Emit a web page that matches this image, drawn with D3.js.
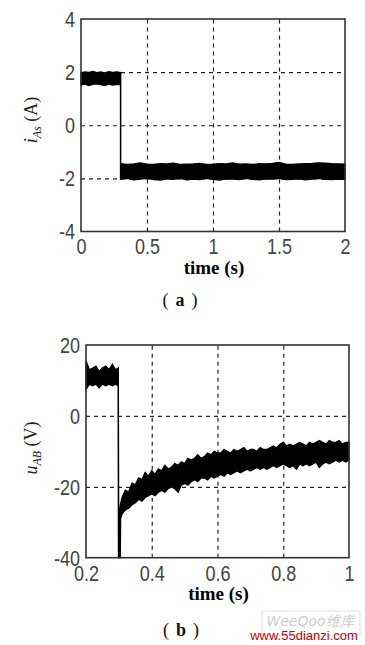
<!DOCTYPE html>
<html>
<head>
<meta charset="utf-8">
<script src="https://cdn.jsdelivr.net/npm/d3@7"></script>
<style>
  body { margin: 0; background: #fff; }
  svg { display: block; }
  .tick text {
    font-family: "Liberation Sans", Arial, sans-serif; font-size: 18px; fill: #444;
    transform-box: fill-box; transform-origin: center; transform: scaleY(1.18);
  }
  .grid line { stroke: #222; stroke-width: 1.2; stroke-dasharray: 4 4; }
  .grid path { display: none; }
</style>
</head>
<body>
<svg id="chart" width="365" height="645"></svg>
<script>
// ----------- DATA -----------
// (a) phase current: time, upper and lower edge of the noisy trace
const timeA = [0, 0.03, 0.06, 0.09, 0.12, 0.15, 0.18, 0.21, 0.24, 0.27, 0.3,
  0.3, 0.35, 0.4, 0.45, 0.5, 0.55, 0.6, 0.65, 0.7, 0.75, 0.8, 0.85, 0.9, 0.95, 1.0,
  1.05, 1.1, 1.15, 1.2, 1.25, 1.3, 1.35, 1.4, 1.45, 1.5, 1.55, 1.6, 1.65, 1.7,
  1.75, 1.8, 1.85, 1.9, 1.95, 2.0];
const upperA = [1.97, 2.0, 1.99, 2.02, 1.98, 2.0, 1.97, 2.01, 1.99, 2.0, 1.98,
  -1.45, -1.48, -1.46, -1.42, -1.47, -1.48, -1.45, -1.46, -1.43, -1.48, -1.47, -1.46, -1.44, -1.48, -1.47,
  -1.45, -1.46, -1.42, -1.47, -1.46, -1.48, -1.45, -1.46, -1.44, -1.4, -1.47, -1.48, -1.46, -1.45,
  -1.44, -1.42, -1.43, -1.45, -1.46, -1.47];
const lowerA = [1.52, 1.55, 1.5, 1.54, 1.56, 1.53, 1.5, 1.55, 1.52, 1.54, 1.53,
  -2.03, -2.0, -2.05, -2.02, -2.0, -2.04, -2.06, -2.01, -2.03, -2.0, -2.05, -2.02, -2.04, -2.0, -2.03,
  -2.06, -2.01, -2.02, -2.04, -2.0, -2.03, -2.05, -2.01, -2.02, -2.0, -2.04, -2.03, -2.01, -2.05,
  -2.02, -2.0, -2.03, -2.04, -2.02, -2.03];

// (b) line voltage
const timeB = [0.2, 0.21, 0.22, 0.23, 0.24, 0.25, 0.26, 0.27, 0.28, 0.29, 0.298,
  0.299, 0.304, 0.305,
  0.31, 0.32, 0.33, 0.34, 0.35, 0.36, 0.37, 0.38, 0.39, 0.4,
  0.41, 0.42, 0.43, 0.44, 0.45, 0.46, 0.47, 0.48, 0.49, 0.5,
  0.51, 0.52, 0.53, 0.54, 0.55, 0.56, 0.57, 0.58, 0.59, 0.6,
  0.61, 0.62, 0.63, 0.64, 0.65, 0.66, 0.67, 0.68, 0.69, 0.7,
  0.71, 0.72, 0.73, 0.74, 0.75, 0.76, 0.77, 0.78, 0.79, 0.8,
  0.81, 0.82, 0.83, 0.84, 0.85, 0.86, 0.87, 0.88, 0.89, 0.9,
  0.91, 0.92, 0.93, 0.94, 0.95, 0.96, 0.97, 0.98, 0.99, 1.0];
const upperB = [15.5, 13, 13.5, 14, 12.5, 13.5, 14, 13, 14.5, 13, 13.5,
  -26, -26, -25,
  -23, -21, -21.5, -19, -19.5, -17.5, -18, -16, -17, -15.5,
  -16.5, -15, -15.5, -14, -15, -14.5, -13.5, -14, -13, -13.5,
  -12, -12.5, -12, -11, -12, -11.5, -10.5, -11, -10, -10.5,
  -10.5, -9.5, -10, -10.5, -9.5, -10, -9.5, -9, -10, -9.5,
  -9.5, -10, -9, -9.5, -9.5, -9, -8.5, -9, -8, -7.5,
  -8.5, -8, -8.5, -8, -7.5, -8, -8.5, -7.5, -8, -7.5,
  -7, -7.5, -8, -7, -7.5, -7.5, -7, -8, -7.5, -7.5];
const lowerB = [7.5, 9, 8.5, 9, 8, 9, 8.5, 9, 8.5, 9, 8.5,
  -40, -40, -29,
  -27.5, -26.5, -26, -25, -24.5, -23.5, -24, -23, -22.5, -22,
  -22.5, -21.5, -21, -21.5, -20.5, -20, -20.5, -21.5, -19.5, -19,
  -19.5, -18.5, -18, -18.5, -17.5, -17.5, -18, -17, -17.5, -17,
  -16.5, -17, -16, -16.5, -16, -15.5, -16, -15.5, -15, -15.5,
  -15, -14.5, -15, -14.5, -15, -14.5, -14, -14.5, -14, -13.5,
  -14, -14.5, -14, -15, -13.5, -14, -13.5, -14, -13.5, -13,
  -14.5, -13.5, -13, -13.5, -13, -12.5, -13, -12.5, -13, -12.5];

const ticksA_x = [0, 0.5, 1, 1.5, 2];
const ticksA_y = [-4, -2, 0, 2, 4];
const ticksB_x = [0.2, 0.4, 0.6, 0.8, 1];
const ticksB_y = [-40, -20, 0, 20];

// ----------- DRAW ONE PANEL -----------
const svg = d3.select("#chart");

function panel(opt) {
  const x = d3.scaleLinear().domain(opt.xDomain).range([opt.left, opt.right]);
  const y = d3.scaleLinear().domain(opt.yDomain).range([opt.bottom, opt.top]);
  const g = svg.append("g");

  // dashed grid on the inner ticks only
  g.append("g").attr("class", "grid")
    .attr("transform", `translate(0,${opt.bottom})`)
    .call(d3.axisBottom(x).tickValues(opt.xTicks.slice(1, -1))
      .tickSize(-(opt.bottom - opt.top)).tickFormat(""));
  g.append("g").attr("class", "grid")
    .attr("transform", `translate(${opt.left},0)`)
    .call(d3.axisLeft(y).tickValues(opt.yTicks.slice(1, -1))
      .tickSize(-(opt.right - opt.left)).tickFormat(""));

  // tick labels
  const xa = g.append("g")
    .attr("transform", `translate(0,${opt.bottom})`)
    .call(d3.axisBottom(x).tickValues(opt.xTicks).tickSize(0).tickPadding(9)
      .tickFormat(d3.format("")));
  const ya = g.append("g")
    .attr("transform", `translate(${opt.left},0)`)
    .call(d3.axisLeft(y).tickValues(opt.yTicks).tickSize(0).tickPadding(6)
      .tickFormat(d => d < 0 ? "-" + Math.abs(d) : d));
  xa.select(".domain").remove();
  ya.select(".domain").remove();
  ya.selectAll(".tick text").attr("dy", "0.35em");

  // noisy trace drawn as its envelope
  const rows = opt.t.map((t, i) => ({ t, hi: opt.hi[i], lo: opt.lo[i] }));
  g.append("path")
    .datum(rows)
    .attr("fill", "#000")
    .attr("stroke", "#000")
    .attr("stroke-width", 1.5)
    .attr("d", d3.area().x(d => x(d.t)).y0(d => y(d.lo)).y1(d => y(d.hi)));

  // box
  g.append("rect")
    .attr("x", opt.left).attr("y", opt.top)
    .attr("width", opt.right - opt.left).attr("height", opt.bottom - opt.top)
    .attr("fill", "none").attr("stroke", "#333").attr("stroke-width", 1.6);

  // x title
  g.append("text")
    .attr("x", (opt.left + opt.right) / 2 + 1).attr("y", opt.bottom + 42)
    .attr("text-anchor", "middle")
    .style("font-family", "'Liberation Serif', 'Times New Roman', serif")
    .style("font-size", "19px").style("font-weight", "bold")
    .text("time (s)");

  // y title (rotated)
  const yt = g.append("text")
    .attr("transform", `translate(${opt.yLabelX},${opt.yLabelY}) rotate(-90)`)
    .attr("text-anchor", "middle")
    .style("font-family", "'Liberation Serif', 'Times New Roman', serif")
    .style("font-size", "18px").attr("fill", "#222");
  yt.append("tspan").style("font-style", "italic").text(opt.yVar);
  yt.append("tspan").attr("dy", 4).style("font-size", "12px").style("font-style", "italic").text(opt.ySub);
  yt.append("tspan").attr("dy", -4).text(" " + opt.yUnit);

  // caption: wide brackets round a bold letter
  const cap = svg.append("text")
    .attr("x", opt.capX).attr("y", opt.capY)
    .attr("text-anchor", "middle")
    .style("font-family", "'Liberation Serif', serif")
    .style("font-size", "18px").attr("fill", "#111");
  cap.append("tspan").text("(");
  cap.append("tspan").attr("dx", 7).style("font-weight", "bold").text(opt.caption);
  cap.append("tspan").attr("dx", 7).text(")");
}

panel({
  xDomain: [0, 2], yDomain: [-4, 4],
  left: 81, right: 345, top: 19, bottom: 231.5,
  xTicks: ticksA_x, yTicks: ticksA_y,
  t: timeA, hi: upperA, lo: lowerA,
  yVar: "i", ySub: "As", yUnit: "(A)", yLabelX: 37, yLabelY: 120,
  caption: "a", capX: 180, capY: 306
});

panel({
  xDomain: [0.2, 1], yDomain: [-40, 20],
  left: 86, right: 349, top: 345, bottom: 557.7,
  xTicks: ticksB_x, yTicks: ticksB_y,
  t: timeB, hi: upperB, lo: lowerB,
  yVar: "u", ySub: "AB", yUnit: "(V)", yLabelX: 37, yLabelY: 448,
  caption: "b", capX: 181, capY: 636
});

// watermark
svg.append("rect").attr("x", 262).attr("y", 611).attr("width", 98).attr("height", 24)
  .attr("fill", "#fff").attr("stroke", "#e2e2e2");
svg.append("text").attr("x", 310).attr("y", 626).attr("text-anchor", "middle")
  .style("font-family", "'DejaVu Sans', sans-serif").style("font-size", "14px")
  .style("font-style", "italic").attr("fill", "#ccc").text("WeeQoo维库");
svg.append("text").attr("x", 304).attr("y", 640).attr("text-anchor", "middle")
  .style("font-family", "'Liberation Sans', Arial, sans-serif").style("font-size", "13px")
  .attr("fill", "#d00000").text("www.55dianzi.com");
</script>
</body>
</html>
